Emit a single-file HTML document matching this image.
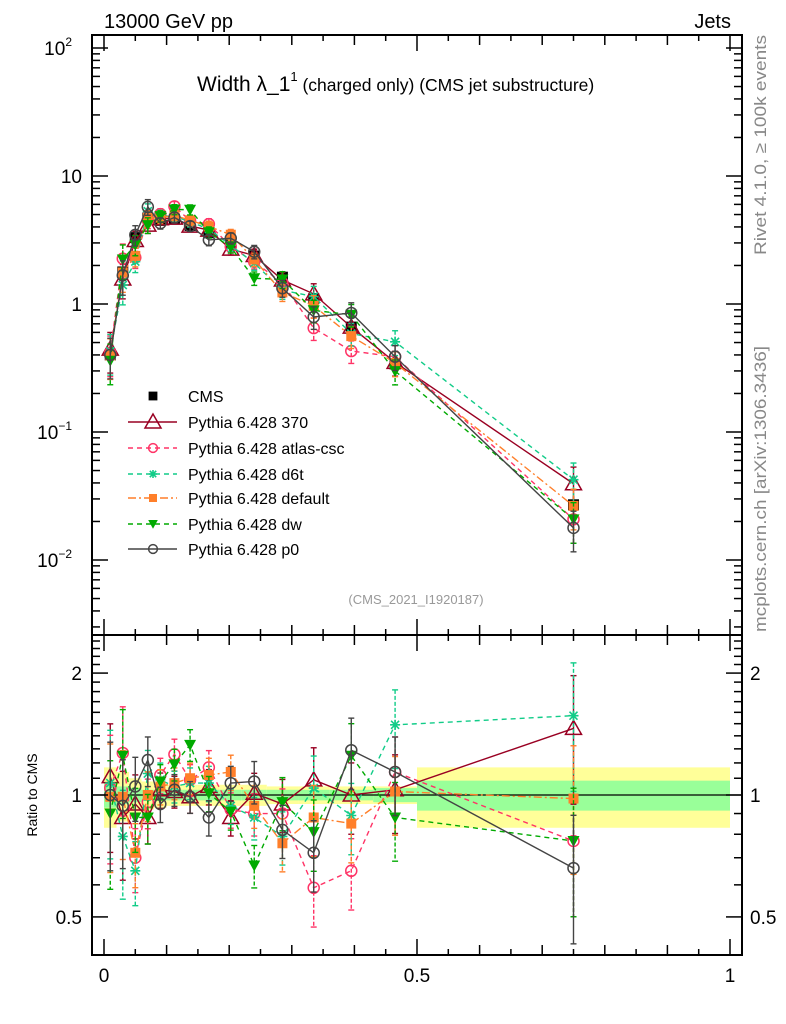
<!DOCTYPE html>
<html><head><meta charset="utf-8"><style>
body{margin:0;background:#fff;}
svg{display:block;font-family:"Liberation Sans",sans-serif;}
</style></head><body>
<svg id="chart" width="786" height="1024" viewBox="0 0 786 1024" xmlns="http://www.w3.org/2000/svg">
<g id="bands"></g>
<line x1="92" x2="742" y1="795" y2="795" stroke="#000" stroke-width="1.2"/>
<g id="series"></g>
<g id="axes"></g>
<text x="104" y="28" font-size="20">13000 GeV pp</text>
<text x="731" y="28" font-size="20" text-anchor="end">Jets</text>
<text x="197" y="91" font-size="21">Width λ_1<tspan font-size="13" dy="-10">1</tspan><tspan font-size="17.5" dy="10"> (charged only) (CMS jet substructure)</tspan></text>
<text x="416" y="604" font-size="13" fill="#999" text-anchor="middle">(CMS_2021_I1920187)</text>
<text transform="translate(766,255) rotate(-90)" font-size="17" fill="#888" textLength="220" lengthAdjust="spacingAndGlyphs">Rivet 4.1.0, ≥ 100k events</text>
<text transform="translate(766,632) rotate(-90)" font-size="17" fill="#888" textLength="286" lengthAdjust="spacingAndGlyphs">mcplots.cern.ch [arXiv:1306.3436]</text>
<text transform="translate(37,795) rotate(-90)" font-size="14" text-anchor="middle">Ratio to CMS</text>
<g id="legend"></g>
</svg>
<script>
const NS="http://www.w3.org/2000/svg";
const edges=[0,0.02,0.04,0.06,0.08,0.1,0.125,0.15,0.185,0.22,0.26,0.31,0.36,0.43,0.5,1.0];
const cmsValues=[0.40,1.78,3.3,4.7,4.5,4.6,4.1,3.6,3.05,2.37,1.62,1.1,0.66,0.34,0.027];
const dataTotUnc=[0.17,0.14,0.10,0.08,0.07,0.06,0.06,0.06,0.06,0.06,0.05,0.05,0.05,0.05,0.17];
const dataStatUnc=[0.07,0.05,0.04,0.03,0.03,0.03,0.03,0.03,0.03,0.03,0.03,0.03,0.03,0.04,0.085];
const mcRelErr=[0.35,0.3,0.18,0.14,0.1,0.09,0.09,0.1,0.1,0.12,0.15,0.2,0.2,0.22,0.35];
const r370=[1.11,0.88,0.95,0.88,1.03,1.02,0.99,1.05,0.88,1.01,0.95,1.09,1.0,1.03,1.46];
const rAtlas=[1.04,1.27,0.70,0.96,1.12,1.26,1.09,1.17,0.92,0.90,0.90,0.59,0.65,1.14,0.77];
const rD6t=[1.07,0.79,0.65,1.13,1.09,1.05,1.07,1.07,0.94,0.88,0.79,1.04,0.89,1.49,1.57];
const rDefault=[0.99,0.99,0.72,1.0,1.05,1.07,1.10,1.12,1.14,0.94,0.76,0.88,0.85,1.02,0.98];
const rDw=[0.90,1.25,0.88,0.88,1.08,1.19,1.33,1.01,0.91,0.67,0.96,0.81,1.25,0.88,0.77];
const rP0=[1.0,0.94,1.05,1.22,0.95,1.03,0.99,0.88,1.07,1.08,0.82,0.72,1.29,1.14,0.66];

const X=v=>104+626*v;
const YM=v=>304-128*Math.log10(v);
const YR=r=>795-405*Math.log10(r);
const centers=edges.slice(0,-1).map((e,i)=>(e+edges[i+1])/2);
function el(tag,attrs,parent){const e=document.createElementNS(NS,tag);for(const k in attrs)e.setAttribute(k,attrs[k]);parent.appendChild(e);return e;}

const bands=document.getElementById('bands');
for(let i=0;i<cmsValues.length;i++){
  const x1=X(edges[i]),x2=X(edges[i+1]);
  const y=el('rect',{x:x1,width:x2-x1,y:YR(1+dataTotUnc[i]),height:YR(1-dataTotUnc[i])-YR(1+dataTotUnc[i]),fill:'#ffff99'},bands);
  
  
  const g=el('rect',{x:x1,width:x2-x1,y:YR(1+dataStatUnc[i]),height:YR(1-dataStatUnc[i])-YR(1+dataStatUnc[i]),fill:'#99ff99'},bands);
  
  
}

const series=[
 {name:'370',r:r370,color:'#990022',dash:'',marker:'tri',label:'Pythia 6.428 370'},
 {name:'atlas-csc',r:rAtlas,color:'#ff3366',dash:'5,4',marker:'circ',label:'Pythia 6.428 atlas-csc'},
 {name:'d6t',r:rD6t,color:'#11cc88',dash:'5,4',marker:'star',label:'Pythia 6.428 d6t'},
 {name:'default',r:rDefault,color:'#ff7f2a',dash:'8,3,2,3',marker:'sq',label:'Pythia 6.428 default'},
 {name:'dw',r:rDw,color:'#00aa00',dash:'5,4',marker:'tridown',label:'Pythia 6.428 dw'},
 {name:'p0',r:rP0,color:'#444444',dash:'',marker:'circ',label:'Pythia 6.428 p0'}
];
function marker(type,x,y,color,parent,s){
  s=s||1;let m;
  if(type==='tri')m=el('polygon',{points:`${x},${y-8*s} ${x-8*s},${y+6*s} ${x+8*s},${y+6*s}`,fill:'none',stroke:color,'stroke-width':1.5},parent);
  else if(type==='tridown')m=el('polygon',{points:`${x},${y+6*s} ${x-6*s},${y-5*s} ${x+6*s},${y-5*s}`,fill:color},parent);
  else if(type==='circ')m=el('circle',{cx:x,cy:y,r:5.5*s,fill:'none',stroke:color,'stroke-width':1.5},parent);
  else if(type==='sq')m=el('rect',{x:x-5*s,y:y-5*s,width:10*s,height:10*s,fill:color},parent);
  else if(type==='blk')m=el('rect',{x:x-5.5*s,y:y-5.5*s,width:11*s,height:11*s,fill:'#000'},parent);
  else {m=el('path',{d:`M${x-5*s},${y}H${x+5*s}M${x},${y-5*s}V${y+5*s}M${x-4*s},${y-4*s}L${x+4*s},${y+4*s}M${x-4*s},${y+4*s}L${x+4*s},${y-4*s}`,stroke:color,'stroke-width':1.6},parent);}
  return m;
}
const sl=document.getElementById('series');
const cmsG=el('g',{},sl);


cmsValues.forEach((v,i)=>{
  const x=X(centers[i]);
  el('line',{x1:x,x2:x,y1:YM(v*(1+dataTotUnc[i])),y2:YM(v*(1-dataTotUnc[i])),stroke:'#000','stroke-width':1.5},cmsG);
  const m=marker('blk',x,YM(v),'#000',cmsG);
  
  
});
series.forEach(s=>{
  ['main','ratio'].forEach(panel=>{
    const g=el('g',{},sl);
    
    
    const pts=s.r.map((r,i)=>{const x=X(centers[i]);return panel==='main'?[x,YM(cmsValues[i]*r),YM(cmsValues[i]*r*(1+mcRelErr[i])),YM(cmsValues[i]*r*(1-mcRelErr[i]))]:[x,YR(r),YR(r*(1+mcRelErr[i])),YR(r*(1-mcRelErr[i]))];});
    const pl=el('polyline',{points:pts.map(p=>p[0]+','+p[1]).join(' '),fill:'none',stroke:s.color,'stroke-width':1.4,'stroke-dasharray':s.dash},g);
    
    
    pts.forEach(p=>{
      el('line',{x1:p[0],x2:p[0],y1:p[2],y2:p[3],stroke:s.color,'stroke-width':1.4,'stroke-dasharray':s.dash?'4,2':''},g);
      el('line',{x1:p[0]-3,x2:p[0]+3,y1:p[2],y2:p[2],stroke:s.color,'stroke-width':1.4},g);
      el('line',{x1:p[0]-3,x2:p[0]+3,y1:p[3],y2:p[3],stroke:s.color,'stroke-width':1.4},g);
      const m=marker(s.marker,p[0],p[1],s.color,g);
      
      
    });
  });
});

const ax=document.getElementById('axes');
const frame=(y1,y2)=>el('rect',{x:92,y:y1,width:650,height:y2-y1,fill:'none',stroke:'#000','stroke-width':2},ax);
const f1=frame(35,635);
const f2=frame(635,955);
function tick(x1,y1,x2,y2){el('line',{x1,y1,x2,y2,stroke:'#000','stroke-width':1.5},ax);}
for(let k=0;k<=20;k++){const v=k*0.05,x=X(v);const L=(k%10===0)?16:(k%2===0?10:6);
  tick(x,955,x,955-L);tick(x,635,x,635-L);tick(x,635,x,635+L);tick(x,35,x,35+L);}
[['0',0],['0.5',0.5],['1',1]].forEach(([t,v])=>{const e=el('text',{x:X(v),y:982,'font-size':19,'text-anchor':'middle'},ax);e.textContent=t;
  });
for(let d=-3;d<=2;d++){for(let m=1;m<10;m++){const v=m*Math.pow(10,d);const y=YM(v);if(y<36||y>634)continue;const L=m===1?16:8;
  tick(92,y,92+L,y);tick(742,y,742-L,y);}}
const mainLabels=[['10','2',100],['10','',10],['1','',1],['10','−1',0.1],['10','−2',0.01]];
mainLabels.forEach(([b,e,v])=>{const t=el('text',{x:e?72:82,y:YM(v)+7,'font-size':19,'text-anchor':'end'},ax);t.textContent=b;
  
  if(e){const s=el('tspan',{'font-size':12,dy:-9},t);s.textContent=e;}
  if(!e&&v===10){t.setAttribute('x',82);} });
const rt=[0.4,0.5,0.6,0.7,0.8,0.9,1,1.1,1.2,1.3,1.4,1.5,1.6,1.7,1.8,1.9,2,2.1,2.2,2.3,2.4,2.5];
rt.forEach(r=>{const y=YR(r);if(y<636||y>954)return;const L=(r===0.5||r===1||r===2)?16:8;tick(92,y,92+L,y);tick(742,y,742-L,y);});
[['2',2],['1',1],['0.5',0.5]].forEach(([t,v])=>{
  const a=el('text',{x:82,y:YR(v)+7,'font-size':19,'text-anchor':'end'},ax);a.textContent=t;
  
  const b=el('text',{x:750,y:YR(v)+7,'font-size':19},ax);b.textContent=t;
  });

const lg=document.getElementById('legend');
const ly=[396,422,448,474,498,524,549];
let e=el('g',{},lg);
marker('blk',153,ly[0],'#000',e,0.8);
let t=el('text',{x:188,y:ly[0]+6,'font-size':16},e);t.textContent='CMS';
series.forEach((s,i)=>{
  const g=el('g',{},lg);
  
  
  const y=ly[i+1];
  el('line',{x1:128,x2:177,y1:y,y2:y,stroke:s.color,'stroke-width':1.5,'stroke-dasharray':s.dash},g);
  marker(s.marker,153,y,s.color,g,s.marker==='tri'?1:0.8);
  const tx=el('text',{x:188,y:y+6,'font-size':16},g);tx.textContent=s.label;
});
</script>
</body></html>
